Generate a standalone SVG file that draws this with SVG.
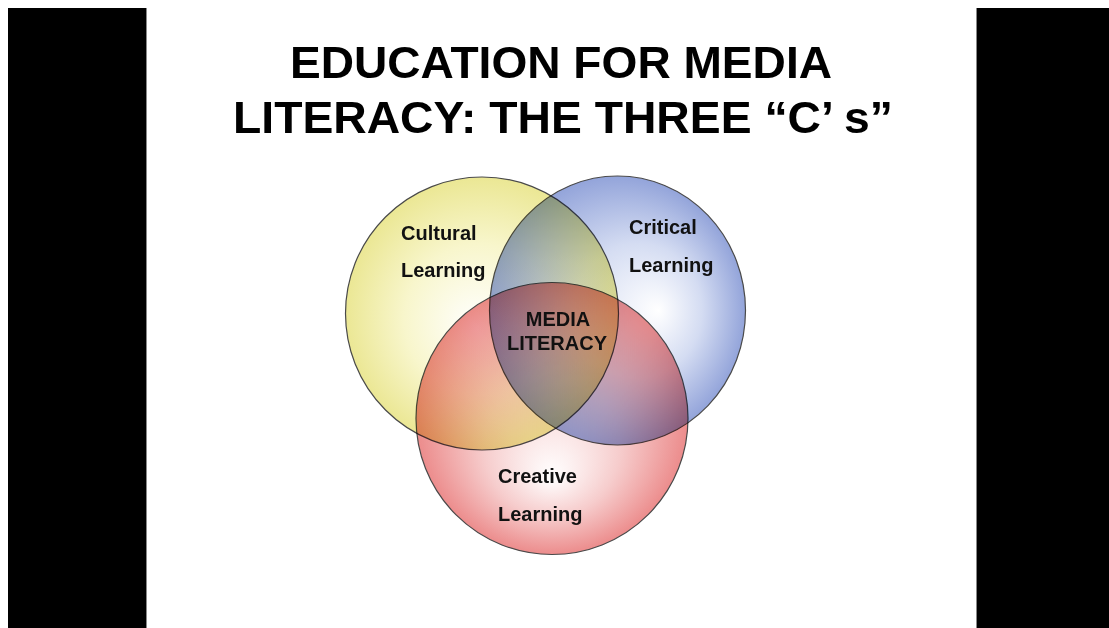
<svg xmlns="http://www.w3.org/2000/svg" width="1109" height="628" viewBox="0 0 1109 628">
<style>
.bar{fill:#000}
.ring{stroke:#4a4a4a;stroke-width:1.2;mix-blend-mode:multiply}
.title{font-family:"Liberation Sans",Arial,sans-serif;font-weight:bold;font-size:45px;fill:#000;text-anchor:middle}
.lbl{font-family:"Liberation Sans",Arial,sans-serif;font-weight:bold;font-size:20px;fill:#111}
</style>
<defs>
<radialGradient id="gY" cx="0.5" cy="0.5" r="0.5" fx="0.48" fy="0.55">
<stop offset="0" stop-color="#ffffff"/>
<stop offset="0.55" stop-color="#f8f6cc"/>
<stop offset="1" stop-color="#ebe794"/>
</radialGradient>
<radialGradient id="gB" cx="0.5" cy="0.5" r="0.5" fx="0.66" fy="0.5">
<stop offset="0" stop-color="#ffffff"/>
<stop offset="0.5" stop-color="#d4dcf2"/>
<stop offset="1" stop-color="#93a4da"/>
</radialGradient>
<radialGradient id="gR" cx="0.5" cy="0.5" r="0.5" fx="0.5" fy="0.72">
<stop offset="0" stop-color="#ffffff"/>
<stop offset="0.5" stop-color="#f6cccc"/>
<stop offset="1" stop-color="#ec8c8c"/>
</radialGradient>
</defs>
<rect x="0" y="0" width="1109" height="628" fill="#fff"/>
<rect class="bar" x="8" y="8" width="138" height="620"/>
<rect x="146" y="8" width="1" height="620" fill="#888"/>
<rect class="bar" x="977" y="8" width="132" height="620"/>
<rect x="976" y="8" width="1" height="620" fill="#888"/>
<g id="title">
<text class="title" x="561" y="78" textLength="542" lengthAdjust="spacingAndGlyphs">EDUCATION FOR MEDIA</text>
<text class="title" x="563" y="133" textLength="660" lengthAdjust="spacingAndGlyphs">LITERACY: THE THREE “C’ s”</text>
</g>
<g id="venn" style="isolation:isolate">
<g id="cultural">
<circle class="ring" cx="482" cy="313.5" r="136.5" fill="url(#gY)"/>
</g>
<g id="critical">
<ellipse class="ring" cx="617.5" cy="310.5" rx="128" ry="134.5" fill="url(#gB)"/>
</g>
<g id="creative">
<circle class="ring" cx="552" cy="418.5" r="136" fill="url(#gR)"/>
</g>
</g>
<g id="labels">
<text class="lbl" x="401" y="240">Cultural</text>
<text class="lbl" x="401" y="277">Learning</text>
<text class="lbl" x="629" y="234">Critical</text>
<text class="lbl" x="629" y="272">Learning</text>
<text class="lbl" x="558" y="326" text-anchor="middle">MEDIA</text>
<text class="lbl" x="557" y="350" text-anchor="middle">LITERACY</text>
<text class="lbl" x="498" y="483">Creative</text>
<text class="lbl" x="498" y="521">Learning</text>
</g>
</svg>
